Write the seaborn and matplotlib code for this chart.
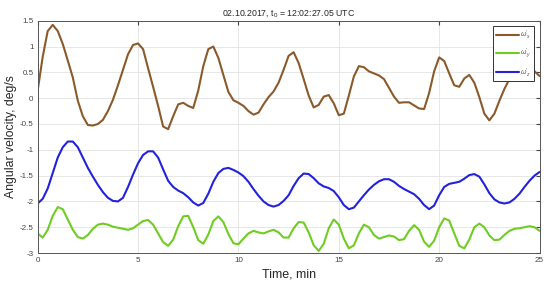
import numpy as np
import pandas as pd
import seaborn as sns
import matplotlib.pyplot as plt

# time axis, minutes (sampled every 0.25 min)
time_min = np.linspace(0, 25, 101)

omega_x = [0.15, 0.80, 1.30, 1.42, 1.30, 1.05, 0.73, 0.40, -0.05, -0.35,
           -0.52, -0.53, -0.50, -0.42, -0.25, -0.03, 0.25, 0.55, 0.85, 1.03,
           1.06, 0.95, 0.58, 0.22, -0.15, -0.55, -0.60, -0.35, -0.12, -0.09,
           -0.15, -0.19, 0.15, 0.62, 0.95, 1.00, 0.78, 0.45, 0.12, -0.04,
           -0.09, -0.15, -0.25, -0.32, -0.28, -0.12, 0.02, 0.13, 0.30, 0.55,
           0.82, 0.89, 0.68, 0.37, 0.05, -0.18, -0.13, 0.03, 0.06, -0.10,
           -0.33, -0.30, 0.05, 0.42, 0.62, 0.60, 0.52, 0.48, 0.44, 0.37,
           0.20, 0.03, -0.09, -0.08, -0.08, -0.14, -0.20, -0.21, 0.10, 0.52,
           0.79, 0.72, 0.48, 0.25, 0.22, 0.38, 0.45, 0.30, 0.02, -0.30,
           -0.43, -0.30, -0.05, 0.18, 0.37, 0.50, 0.58, 0.62, 0.60, 0.52,
           0.43]

omega_y = [-2.62, -2.70, -2.55, -2.28, -2.11, -2.15, -2.35, -2.55, -2.69, -2.72,
           -2.65, -2.53, -2.45, -2.43, -2.45, -2.49, -2.51, -2.53, -2.55, -2.52,
           -2.45, -2.38, -2.36, -2.45, -2.62, -2.79, -2.86, -2.74, -2.48, -2.29,
           -2.28, -2.50, -2.75, -2.82, -2.64, -2.38, -2.29, -2.40, -2.63, -2.81,
           -2.83, -2.72, -2.62, -2.57, -2.60, -2.62, -2.58, -2.55, -2.60, -2.70,
           -2.70, -2.52, -2.40, -2.41, -2.60, -2.85, -2.96, -2.82, -2.52, -2.35,
           -2.45, -2.72, -2.91, -2.85, -2.62, -2.45, -2.50, -2.65, -2.72, -2.69,
           -2.66, -2.68, -2.75, -2.73, -2.57, -2.46, -2.55, -2.78, -2.88, -2.76,
           -2.50, -2.33, -2.37, -2.62, -2.86, -2.91, -2.74, -2.50, -2.43, -2.50,
           -2.66, -2.75, -2.74, -2.65, -2.57, -2.53, -2.52, -2.50, -2.48, -2.50,
           -2.57]

omega_z = [-2.04, -1.95, -1.75, -1.45, -1.15, -0.95, -0.84, -0.84, -0.95, -1.15,
           -1.35, -1.52, -1.68, -1.82, -1.93, -1.99, -2.00, -1.93, -1.72, -1.48,
           -1.26, -1.10, -1.03, -1.03, -1.15, -1.38, -1.60, -1.72, -1.79, -1.84,
           -1.92, -2.02, -2.08, -2.03, -1.85, -1.62, -1.45, -1.37, -1.35, -1.39,
           -1.44, -1.51, -1.62, -1.76, -1.89, -2.00, -2.07, -2.10, -2.07, -1.99,
           -1.88, -1.70, -1.55, -1.46, -1.47, -1.55, -1.65, -1.71, -1.74, -1.80,
           -1.92, -2.07, -2.15, -2.12, -2.00, -1.88, -1.77, -1.68, -1.61, -1.57,
           -1.57, -1.62, -1.70, -1.76, -1.81, -1.86, -1.95, -2.07, -2.15, -2.08,
           -1.88, -1.72, -1.66, -1.64, -1.62, -1.56, -1.49, -1.47, -1.52, -1.67,
           -1.84, -1.96, -2.02, -2.04, -2.02, -1.95, -1.85, -1.72, -1.60, -1.50,
           -1.43]

labels = [r"$\omega'_x$", r"$\omega'_y$", r"$\omega'_z$"]
colors = ["#8B5A2B", "#6FCC22", "#2222DD"]

sns.set_style("whitegrid")
plt.rcParams['font.family'] = ['Liberation Sans', 'DejaVu Sans']
plt.rcParams['mathtext.fontset'] = 'custom'
plt.rcParams['mathtext.rm'] = 'Liberation Sans'
plt.rcParams['mathtext.it'] = 'Liberation Sans:italic'
plt.rcParams['axes.unicode_minus'] = False

fig = plt.figure(figsize=(5.5, 2.84), dpi=100)
ax = fig.add_axes([0.0685, 0.109, 0.9125, 0.818])

for vals, lab, col in zip([omega_x, omega_y, omega_z], labels, colors):
    sns.lineplot(x=time_min, y=vals, ax=ax, color=col, linewidth=1.5, label=lab)

ax.set_xlim(0, 25)
ax.set_ylim(-3, 1.5)
ax.set_xticks([0, 5, 10, 15, 20, 25])
ax.set_yticks(np.arange(-3, 1.51, 0.5))
ax.set_yticklabels([f"{v:g}" for v in np.arange(-3, 1.51, 0.5)])
ax.tick_params(direction='in', length=3, labelsize=5.8, colors='#444444',
               top=True, right=True, pad=3)
ax.grid(True, color='#e3e3e3', linewidth=0.6)
for s in ax.spines.values():
    s.set_color('#555555')
    s.set_linewidth(0.7)

ax.set_title("02.10.2017, t$_0$ = 12:02:27.05 UTC", fontsize=6.3, pad=4)
ax.set_xlabel("Time, min", fontsize=9, labelpad=3)
ax.set_ylabel("Angular velocity, deg/s", fontsize=8.8, labelpad=2)

leg = ax.legend(loc='upper right', fontsize=5, handlelength=3.3,
                handletextpad=0.2, frameon=True, fancybox=False,
                borderpad=0.35, labelspacing=0.85, borderaxespad=0.8)
leg.get_frame().set_edgecolor('#333333')
leg.get_frame().set_linewidth(0.7)
leg.get_frame().set_alpha(1)
for txt in leg.get_texts():
    txt.set_color('#555555')

fig.savefig("out.png", dpi=100)
